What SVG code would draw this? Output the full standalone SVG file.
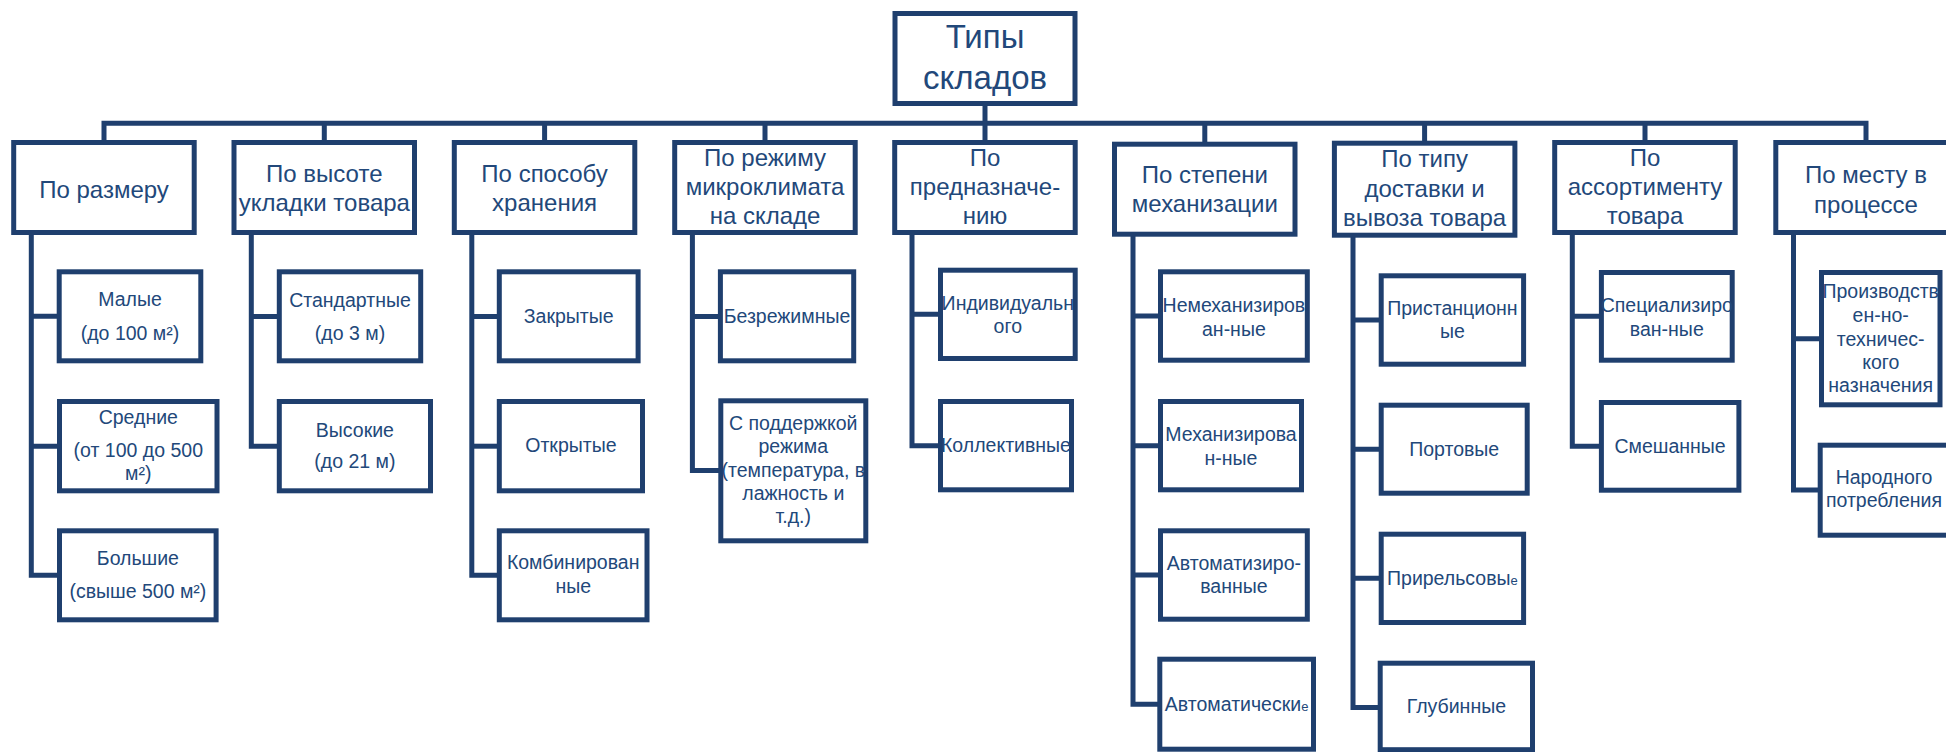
<svg xmlns="http://www.w3.org/2000/svg" width="1946" height="752" viewBox="0 0 1946 752">
<style>
.box{fill:#ffffff;stroke:#1f3f6e;stroke-width:5;stroke-linejoin:miter}
.conn{fill:none;stroke:#1f3f6e;stroke-width:5;stroke-linejoin:miter;stroke-linecap:butt}
text{font-family:"Liberation Sans",Arial,sans-serif;fill:#22487a;text-anchor:middle}
.root{font-size:33px}
.cat{font-size:24px}
.ch{font-size:19.5px}
.sm{font-size:13px}
</style>
<rect x="0" y="0" width="1946" height="752" fill="#ffffff"/>
<g id="connectors">
<path class="conn" d="M985 106 V123.3"/>
<path class="conn" d="M104 141 V123.3 H1866 V141"/>
<path class="conn" d="M324.3 123.3 V141 M544.6 123.3 V141 M765 123.3 V141 M985 123.3 V141 M1204.8 123.3 V142.5 M1424.6 123.3 V141.5 M1645 123.3 V141"/>
<path class="conn" d="M31.3 234 V575.3 H58 M31.3 316.3 H58 M31.3 446.2 H58"/>
<path class="conn" d="M251.3 234 V446.2 H278 M251.3 316.5 H278"/>
<path class="conn" d="M471.8 234 V575.3 H498 M471.8 316.5 H498"/>
<path class="conn" d="M471.8 446.2 H498"/>
<path class="conn" d="M692.4 234 V470.5 H720 M692.4 316.5 H720"/>
<path class="conn" d="M912 234 V445.7 H940 M912 314.3 H940"/>
<path class="conn" d="M1133 235.5 V704.2 H1159 M1133 316 H1159 M1133 445.7 H1159 M1133 575 H1159"/>
<path class="conn" d="M1353 236.5 V707.5 H1379 M1353 320 H1379 M1353 449.2 H1379 M1353 578.3 H1379"/>
<path class="conn" d="M1572.3 234 V446.3 H1600 M1572.3 316.3 H1600"/>
<path class="conn" d="M1793.5 234 V490 H1819 M1793.5 338.7 H1819"/>
</g>
<g id="root">
<rect class="box" x="895" y="13.5" width="180" height="90"/>
<text class="root" x="985" y="48.3">Типы</text>
<text class="root" x="985" y="89.3">складов</text>
</g>
<g id="cat1">
<rect class="box" x="13.7" y="142.5" width="180.5" height="90"/>
<text class="cat" x="104" y="198.3">По размеру</text>
</g>
<g id="cat2">
<rect class="box" x="234" y="142.5" width="180.5" height="90"/>
<text class="cat" x="324.3" y="181.7">По высоте</text>
<text class="cat" x="324.3" y="210.5">укладки товара</text>
</g>
<g id="cat3">
<rect class="box" x="454.3" y="142.5" width="180.5" height="90"/>
<text class="cat" x="544.6" y="181.7">По способу</text>
<text class="cat" x="544.6" y="210.5">хранения</text>
</g>
<g id="cat4">
<rect class="box" x="674.7" y="142.5" width="180.5" height="90"/>
<text class="cat" x="765" y="166">По режиму</text>
<text class="cat" x="765" y="195">микроклимата</text>
<text class="cat" x="765" y="224">на складе</text>
</g>
<g id="cat5">
<rect class="box" x="894.7" y="142.5" width="180.5" height="90"/>
<text class="cat" x="985" y="166">По</text>
<text class="cat" x="985" y="195">предназначе-</text>
<text class="cat" x="985" y="223.5">нию</text>
</g>
<g id="cat6">
<rect class="box" x="1114.5" y="144.2" width="180.5" height="90"/>
<text class="cat" x="1204.8" y="183">По степени</text>
<text class="cat" x="1204.8" y="212">механизации</text>
</g>
<g id="cat7">
<rect class="box" x="1334.4" y="143.2" width="180.5" height="92"/>
<text class="cat" x="1424.6" y="167">По типу</text>
<text class="cat" x="1424.6" y="196.5">доставки и</text>
<text class="cat" x="1424.6" y="226">вывоза товара</text>
</g>
<g id="cat8">
<rect class="box" x="1554.7" y="142.5" width="180.5" height="90"/>
<text class="cat" x="1645" y="166">По</text>
<text class="cat" x="1645" y="195">ассортименту</text>
<text class="cat" x="1645" y="224">товара</text>
</g>
<g id="cat9">
<rect class="box" x="1775.8" y="142.5" width="180.5" height="90"/>
<text class="cat" x="1866" y="182.7">По месту в</text>
<text class="cat" x="1866" y="212.5">процессе</text>
</g>
<g id="small">
<rect class="box" x="59.2" y="271.8" width="141.6" height="89"/>
<text class="ch" x="130" y="306">Малые</text>
<text class="ch" x="130" y="340">(до 100 м²)</text>
</g>
<g id="medium">
<rect class="box" x="59.5" y="401.5" width="157.5" height="89.3"/>
<text class="ch" x="138.3" y="424">Средние</text>
<text class="ch" x="138.3" y="456.5">(от 100 до 500</text>
<text class="ch" x="138.3" y="480">м²)</text>
</g>
<g id="large">
<rect class="box" x="59.5" y="530.8" width="156.6" height="89"/>
<text class="ch" x="137.9" y="565">Большие</text>
<text class="ch" x="137.9" y="597.5">(свыше 500 м²)</text>
</g>
<g id="standard">
<rect class="box" x="279.3" y="271.8" width="141.4" height="89"/>
<text class="ch" x="350" y="306.5">Стандартные</text>
<text class="ch" x="350" y="340">(до 3 м)</text>
</g>
<g id="high">
<rect class="box" x="279.3" y="401.5" width="151.2" height="89.3"/>
<text class="ch" x="354.9" y="436.5">Высокие</text>
<text class="ch" x="354.9" y="468">(до 21 м)</text>
</g>
<g id="closed">
<rect class="box" x="499.3" y="271.8" width="138.8" height="89"/>
<text class="ch" x="568.7" y="323">Закрытые</text>
</g>
<g id="open">
<rect class="box" x="499.3" y="401.5" width="143.2" height="89.3"/>
<text class="ch" x="570.9" y="452">Открытые</text>
</g>
<g id="combined">
<rect class="box" x="499.3" y="530.8" width="147.7" height="89"/>
<text class="ch" x="573.2" y="569">Комбинирован</text>
<text class="ch" x="573.2" y="593">ные</text>
</g>
<g id="noregime">
<rect class="box" x="720.4" y="271.8" width="133.3" height="89"/>
<text class="ch" x="787" y="323">Безрежимные</text>
</g>
<g id="regime">
<rect class="box" x="720.8" y="400.8" width="145" height="140"/>
<text class="ch" x="793.3" y="430">С поддержкой</text>
<text class="ch" x="793.3" y="453.3">режима</text>
<text class="ch" x="793.3" y="477.3">(температура, в</text>
<text class="ch" x="793.3" y="500">лажность и</text>
<text class="ch" x="793.3" y="523.3">т.д.)</text>
</g>
<g id="individual">
<rect class="box" x="940.5" y="270.2" width="134.7" height="88.3"/>
<text class="ch" x="1007.8" y="310">Индивидуальн</text>
<text class="ch" x="1007.8" y="333">ого</text>
</g>
<g id="collective">
<rect class="box" x="940.5" y="401.5" width="131" height="88.3"/>
<text class="ch" x="1006" y="452">Коллективные</text>
</g>
<g id="nonmech">
<rect class="box" x="1160.5" y="271.8" width="146.8" height="88.4"/>
<text class="ch" x="1233.9" y="311.5">Немеханизиров</text>
<text class="ch" x="1233.9" y="336">ан-ные</text>
</g>
<g id="mech">
<rect class="box" x="1160.5" y="401.5" width="141" height="88.3"/>
<text class="ch" x="1231" y="440.5">Механизирова</text>
<text class="ch" x="1231" y="465">н-ные</text>
</g>
<g id="automated">
<rect class="box" x="1160.5" y="530.8" width="146.8" height="88.4"/>
<text class="ch" x="1233.9" y="570">Автоматизиро-</text>
<text class="ch" x="1233.9" y="593">ванные</text>
</g>
<g id="automatic">
<rect class="box" x="1159.8" y="659.2" width="153.7" height="90"/>
<text class="ch" x="1236.6" y="710.5">Автоматически<tspan class="sm">е</tspan></text>
</g>
<g id="station">
<rect class="box" x="1381.2" y="275.8" width="142.4" height="88.4"/>
<text class="ch" x="1452.4" y="314.8">Пристанционн</text>
<text class="ch" x="1452.4" y="338">ые</text>
</g>
<g id="port">
<rect class="box" x="1381.2" y="405.2" width="146" height="88"/>
<text class="ch" x="1454.2" y="455.5">Портовые</text>
</g>
<g id="rail">
<rect class="box" x="1381.2" y="534.2" width="142.4" height="88.3"/>
<text class="ch" x="1452.4" y="585">Прирельсовы<tspan class="sm">е</tspan></text>
</g>
<g id="deep">
<rect class="box" x="1380.2" y="663.2" width="152.3" height="86.5"/>
<text class="ch" x="1456.4" y="713">Глубинные</text>
</g>
<g id="specialized">
<rect class="box" x="1601.4" y="272.5" width="130.8" height="87.7"/>
<text class="ch" x="1666.8" y="311.5">Специализиро</text>
<text class="ch" x="1666.8" y="336">ван-ные</text>
</g>
<g id="mixed">
<rect class="box" x="1601.4" y="402.5" width="137.5" height="87.7"/>
<text class="ch" x="1670.1" y="452.5">Смешанные</text>
</g>
<g id="industrial">
<rect class="box" x="1821.5" y="272.5" width="118.5" height="132.3"/>
<text class="ch" x="1880.7" y="298">Производств</text>
<text class="ch" x="1880.7" y="321.5">ен-но-</text>
<text class="ch" x="1880.7" y="346">техничес-</text>
<text class="ch" x="1880.7" y="369">кого</text>
<text class="ch" x="1880.7" y="391.5">назначения</text>
</g>
<g id="consumer">
<rect class="box" x="1820.2" y="445.2" width="130" height="90"/>
<text class="ch" x="1884" y="484">Народного</text>
<text class="ch" x="1884" y="507">потребления</text>
</g>
</svg>
